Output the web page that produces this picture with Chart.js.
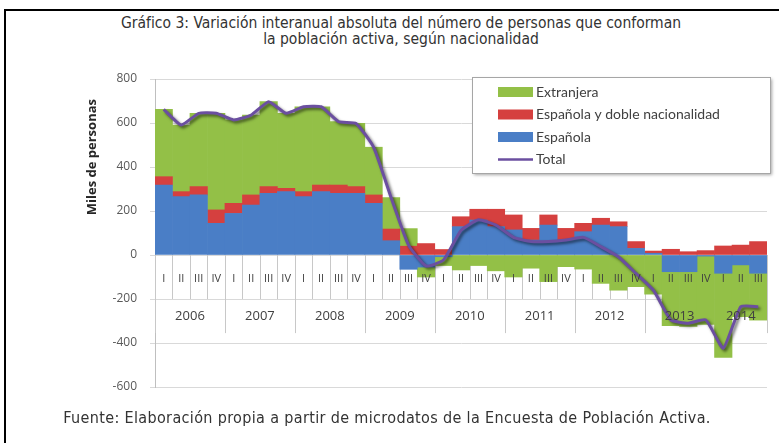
<!DOCTYPE html>
<html lang="es">
<head>
<meta charset="utf-8">
<title>Gráfico 3</title>
<script src="https://cdn.jsdelivr.net/npm/chart.js@4.4.1/dist/chart.umd.min.js"></script>
<style>
  body { margin: 0; background: #fff; }
  #marco { position: absolute; left: 4px; top: 9px; width: 800px; height: 460px;
           border-left: 2px solid #000; border-top: 2px solid #000; }
  .texto { position: absolute; transform: translateX(-50%); white-space: nowrap; text-align: center;
           font-family: "DejaVu Sans Condensed", "DejaVu Sans", sans-serif; font-stretch: condensed;
           color: #333; }
  #titulo { left: 401px; top: 15px; font-size: 15.5px; line-height: 16px; }
  #fuente { left: 387px; top: 409px; font-size: 16px; line-height: 18px; letter-spacing: 0.35px; }
  #lienzo { position: absolute; left: 0; top: 0; }
</style>
</head>
<body>
<div id="marco"></div>
<div class="texto" id="titulo">Gráfico 3: Variación interanual absoluta del número de personas que conforman<br>la población activa, según nacionalidad</div>
<canvas id="lienzo" width="779" height="443"></canvas>
<div class="texto" id="fuente">Fuente: Elaboración propia a partir de microdatos de la Encuesta de Población Activa.</div>
<script>
// Trimestres y años (2006 I a 2014 III)
const anios = ['2006', '2007', '2008', '2009', '2010', '2011', '2012', '2013', '2014'];
const trimestres = [
  'I','II','III','IV', 'I','II','III','IV', 'I','II','III','IV', 'I','II','III','IV',
  'I','II','III','IV', 'I','II','III','IV', 'I','II','III','IV', 'I','II','III','IV',
  'I','II','III'
];

// Variación interanual en miles de personas
const espanola = [
  318, 265, 273, 144, 189, 227, 280, 288, 265, 288, 280, 280,
  235, 65, -65, -55, -8, 129, 159, 129, 114, 68, 136, 68,
  106, 136, 129, 30, 8, -76, -76, -5, -83, -45, -83
];
const dobleNac = [
  38, 23, 38, 61, 46, 46, 31, 15, 23, 30, 38, 31,
  38, 53, 40, 52, 25, 45, 49, 79, 68, 53, 46, 53,
  38, 31, 22, 31, 10, 26, 15, 20, 41, 45, 61
];
const extranjera = [
  306, 303, 333, 439, 379, 363, 386, 341, 386, 356, 288, 287,
  217, 143, 80, -45, -40, -68, -48, -72, -100, -60, -121, -53,
  -64, -129, -160, -144, -178, -245, -249, -310, -382, -235, -213
];
const total = [
  662, 591, 644, 644, 614, 636, 697, 644, 674, 674, 606, 598,
  490, 261, 45, -50, -23, 112, 160, 136, 80, 61, 61, 68,
  80, 38, -8, -83, -160, -295, -310, -295, -424, -235, -235
];

const yTicks = [-600, -400, -200, 0, 200, 400, 600, 800];

const colores = {
  extranjera: '#93C047',
  doble: '#D5403F',
  espanola: '#4A7EC6',
  total: '#6B4FA0'
};

const categorias = trimestres.map((t, i) => anios[Math.floor(i / 4)] + ' ' + t);

// ejes de categorías en dos niveles, leyenda y título del eje Y
const dibujosExtra = {
  id: 'dibujosExtra',
  beforeDatasetsDraw(chart) {
    const { ctx, scales: { x, y } } = chart;
    const n = categorias.length;
    const paso = x.getPixelForValue(1) - x.getPixelForValue(0);
    const y0 = y.getPixelForValue(0);
    const y200 = y.getPixelForValue(-200);
    const yAnio = y.getPixelForValue(-355);
    ctx.save();
    ctx.strokeStyle = '#C8C8C8';
    ctx.lineWidth = 1;
    for (let i = 0; i <= n; i++) {
      const px = Math.round(x.getPixelForValue(0) - paso / 2 + i * paso) + 0.5;
      ctx.beginPath();
      ctx.moveTo(px, y0);
      ctx.lineTo(px, y200);
      if (i % 4 === 0 || i === n) ctx.lineTo(px, yAnio);
      ctx.stroke();
    }
    ctx.restore();
  },
  beforeDatasetDraw(chart, args) {
    if (chart.data.datasets[args.index].type === 'line') {
      const ctx = chart.ctx;
      ctx.save();
      ctx.shadowColor = 'rgba(0,0,0,0.55)';
      ctx.shadowBlur = 3;
      ctx.shadowOffsetX = 2;
      ctx.shadowOffsetY = 2;
    }
  },
  afterDatasetDraw(chart, args) {
    if (chart.data.datasets[args.index].type === 'line') chart.ctx.restore();
  },
  afterDatasetsDraw(chart) {
    const { ctx, scales: { x, y } } = chart;
    const y0 = y.getPixelForValue(0);
    ctx.save();
    ctx.fillStyle = '#404040';
    ctx.textAlign = 'center';
    ctx.textBaseline = 'middle';
    ctx.font = '11px "Open Sans"';
    trimestres.forEach((t, i) => {
      ctx.fillText(t, x.getPixelForValue(i), y0 + 24);
    });
    ctx.font = '13px "Open Sans"';
    anios.forEach((a, k) => {
      const ini = k * 4;
      const fin = Math.min(ini + 3, trimestres.length - 1);
      const cx = (x.getPixelForValue(ini) + x.getPixelForValue(fin)) / 2;
      ctx.fillText(a, cx, y0 + 61);
    });
    ctx.restore();
  },
  afterDraw(chart) {
    const { ctx, scales: { y } } = chart;
    ctx.save();
    // título del eje Y
    ctx.translate(92, y.getPixelForValue(445));
    ctx.rotate(-Math.PI / 2);
    ctx.fillStyle = '#262626';
    ctx.font = 'bold 13px "Open Sans"';
    ctx.textAlign = 'center';
    ctx.textBaseline = 'middle';
    ctx.fillText('Miles de personas', 0, 0);
    ctx.restore();

    // leyenda
    const lx = 472, ly = 77, lw = 298, lh = 96;
    ctx.save();
    ctx.shadowColor = 'rgba(0,0,0,0.35)';
    ctx.shadowBlur = 3;
    ctx.shadowOffsetX = 2;
    ctx.shadowOffsetY = 2;
    ctx.fillStyle = '#fff';
    ctx.fillRect(lx, ly, lw, lh);
    ctx.restore();
    ctx.save();
    ctx.strokeStyle = '#A6A6A6';
    ctx.lineWidth = 1;
    ctx.strokeRect(lx + 0.5, ly + 0.5, lw, lh);
    const orden = [2, 1, 0, 3];
    ctx.font = '14px Lato';
    ctx.textBaseline = 'middle';
    orden.forEach((d, k) => {
      const ds = chart.data.datasets[d];
      const cy = 92 + k * 22.5;
      if (ds.type === 'line') {
        ctx.strokeStyle = ds.borderColor;
        ctx.lineWidth = 2.5;
        ctx.beginPath();
        ctx.moveTo(498, cy);
        ctx.lineTo(533, cy);
        ctx.stroke();
      } else {
        ctx.fillStyle = ds.backgroundColor;
        ctx.fillRect(498, cy - 5, 35, 10);
      }
      ctx.fillStyle = '#404040';
      ctx.fillText(ds.label, 536, cy);
    });
    ctx.restore();
  }
};

new Chart(document.getElementById('lienzo'), {
  type: 'bar',
  data: {
    labels: categorias,
    datasets: [
      { label: 'Española', data: espanola, backgroundColor: colores.espanola, stack: 'nac', order: 1 },
      { label: 'Española y doble nacionalidad', data: dobleNac, backgroundColor: colores.doble, stack: 'nac', order: 1 },
      { label: 'Extranjera', data: extranjera, backgroundColor: colores.extranjera, stack: 'nac', order: 1 },
      { type: 'line', label: 'Total', data: total, borderColor: colores.total, borderWidth: 3,
        pointRadius: 0, tension: 0.15, fill: false, stack: 'total', order: 0 }
    ]
  },
  options: {
    responsive: false,
    animation: false,
    devicePixelRatio: 1,
    layout: { padding: { top: 79, right: 12, bottom: 56, left: 0 } },
    datasets: { bar: { barPercentage: 1, categoryPercentage: 1 } },
    plugins: { legend: { display: false }, tooltip: { enabled: false }, title: { display: false } },
    scales: {
      x: { display: false, stacked: true },
      y: {
        stacked: true,
        min: -600,
        max: 800,
        afterFit(scale) { scale.width = 155; },
        afterBuildTicks(scale) { scale.ticks = yTicks.map(v => ({ value: v })); },
        grid: { color: '#D9D9D9', tickLength: 5 },
        border: { display: true, color: '#BFBFBF' },
        ticks: { color: '#595959', padding: 13, font: { family: 'Open Sans', size: 12 } }
      }
    }
  },
  plugins: [dibujosExtra]
});
</script>
</body>
</html>
